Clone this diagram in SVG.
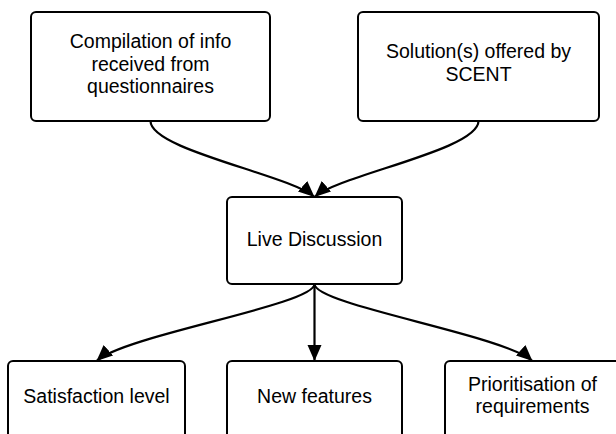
<svg xmlns="http://www.w3.org/2000/svg" width="616" height="434" viewBox="0 0 616 434">
<style>
.box{fill:#ffffff;stroke:#000000;stroke-width:2}
.lbl{font-family:"Liberation Sans",Arial,sans-serif;font-size:19.5px;fill:#000000;text-anchor:middle}
.con{fill:none;stroke:#000000;stroke-width:2.2}
</style>
<defs>
<marker id="arr" markerUnits="userSpaceOnUse" markerWidth="18" markerHeight="16" refX="16" refY="7" orient="auto">
<path d="M0,0 L16,7 L0,14 z" fill="#000000"/>
</marker>
</defs>
<rect width="616" height="434" fill="#ffffff"/>
<g id="connectors">
<path class="con" d="M150.5,121 C150.5,150 290,175 314.5,197" marker-end="url(#arr)"/>
<path class="con" d="M478.5,121 C478.5,150 339,175 314.5,197" marker-end="url(#arr)"/>
<path class="con" d="M314.5,284 C314.5,305 125,335 96.5,361" marker-end="url(#arr)"/>
<path class="con" d="M314.5,284 L314.5,361" marker-end="url(#arr)"/>
<path class="con" d="M314.5,284 C314.5,305 504,335 532.5,361" marker-end="url(#arr)"/>
</g>
<g id="node-compilation">
<rect class="box" x="31" y="12" width="239" height="109" rx="5"/>
<text class="lbl" x="150.5" y="48">Compilation of info</text>
<text class="lbl" x="150.5" y="70.5">received from</text>
<text class="lbl" x="150.5" y="93">questionnaires</text>
</g>
<g id="node-solutions">
<rect class="box" x="358" y="12" width="241" height="109" rx="5"/>
<text class="lbl" x="478.5" y="58">Solution(s) offered by</text>
<text class="lbl" x="478.5" y="81">SCENT</text>
</g>
<g id="node-live">
<rect class="box" x="227" y="197" width="175" height="87" rx="5"/>
<text class="lbl" x="314.5" y="246">Live Discussion</text>
</g>
<g id="node-satisfaction">
<rect class="box" x="8" y="361" width="177" height="87" rx="5"/>
<text class="lbl" x="96.5" y="403">Satisfaction level</text>
</g>
<g id="node-features">
<rect class="box" x="227" y="361" width="175" height="87" rx="5"/>
<text class="lbl" x="314.5" y="403">New features</text>
</g>
<g id="node-prioritisation">
<rect class="box" x="445" y="361" width="175" height="87" rx="5"/>
<text class="lbl" x="532.5" y="391">Prioritisation of</text>
<text class="lbl" x="532.5" y="413">requirements</text>
</g>
</svg>
